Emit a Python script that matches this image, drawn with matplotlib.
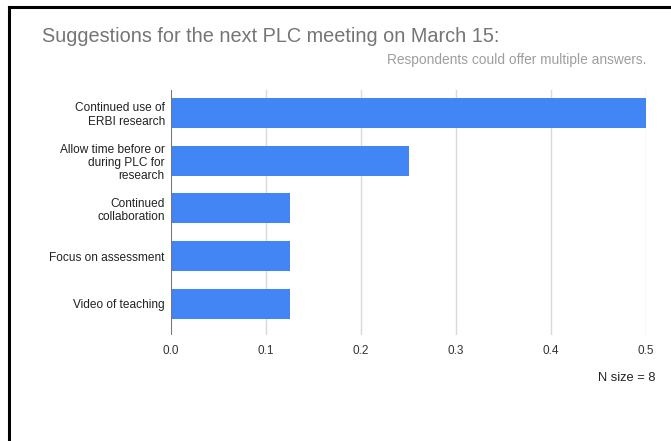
import matplotlib.pyplot as plt
from matplotlib.lines import Line2D

plt.rcParams['font.family'] = ['Liberation Sans', 'DejaVu Sans']

# survey answers, share of respondents
suggestions = [
    "Continued use of\nERBI research",
    "Allow time before or\nduring PLC for\nresearch",
    "Continued\ncollaboration",
    "Focus on assessment",
    "Video of teaching",
]
shares = [0.5, 0.25, 0.125, 0.125, 0.125]
x_ticks = [0.0, 0.1, 0.2, 0.3, 0.4, 0.5]
x_tick_labels = ["0.0", "0.1", "0.2", "0.3", "0.4", "0.5"]

W, H = 671, 441
fig = plt.figure(figsize=(W / 100, H / 100), dpi=100)

# axes box in pixel coords: left 171, right 646, top 90, bottom 335
ax = fig.add_axes([171 / W, 1 - 335 / H, (646 - 171) / W, (335 - 90) / H])

y_pos = list(range(len(suggestions)))
ax.barh(y_pos, shares, height=0.63, color="#4285f4", zorder=3)

ax.set_xlim(0, 0.5)
ax.set_ylim(4.65, -0.48)
ax.set_xticks(x_ticks)
ax.set_xticklabels(x_tick_labels, fontsize=8.5, color="#333333")
ax.set_yticks(y_pos)
ax.set_yticklabels(suggestions, fontsize=8.6, color="#222222", linespacing=1.12)
ax.tick_params(axis="both", length=0)
ax.tick_params(axis="y", pad=4.5)
ax.tick_params(axis="x", pad=7)

for t in x_ticks[1:]:
    ax.axvline(t, color="#d9d9d9", lw=1, zorder=1)
ax.axvline(0, color="#777777", lw=1.5, zorder=4)

for s in ax.spines.values():
    s.set_visible(False)

fig.text(42 / W, 1 - 37 / H, "Suggestions for the next PLC meeting on March 15:",
         fontsize=14.3, color="#757575", ha="left", va="center")
fig.text(646 / W, 1 - 60 / H, "Respondents could offer multiple answers.",
         fontsize=9.9, color="#9e9e9e", ha="right", va="center")
fig.text(655 / W, 1 - 378 / H, "N size = 8",
         fontsize=9.3, color="#222222", ha="right", va="center")

# black frame along the top and left edges
fig.add_artist(Line2D([9 / W, 1], [1 - 7 / H, 1 - 7 / H], color="black", lw=2.2,
                      transform=fig.transFigure))
fig.add_artist(Line2D([9 / W, 9 / W], [0, 1 - 7 / H], color="black", lw=2.2,
                      transform=fig.transFigure))

fig.savefig("out.png", dpi=100)
